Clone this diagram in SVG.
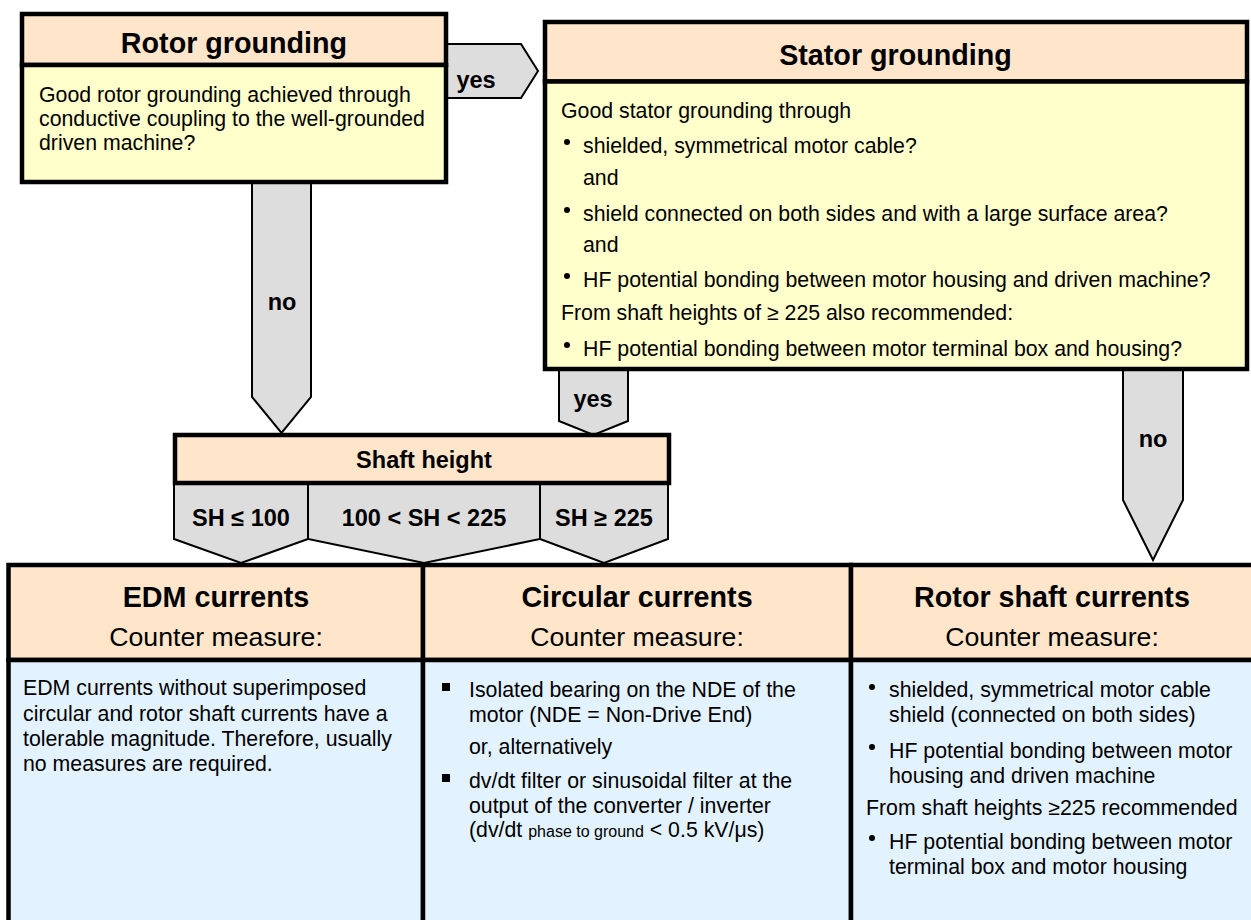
<svg xmlns="http://www.w3.org/2000/svg" width="1251" height="920" viewBox="0 0 1251 920">
<style>
 .bx{stroke:#000;stroke-width:4.5}
 .hdr{fill:#FFE6CB}
 .yel{fill:#FFFFCC}
 .blue{fill:#E2F3FF}
 .arr{fill:#DDDDDD;stroke:#000;stroke-width:2}
 text{font-family:"Liberation Sans",Arial,Helvetica,sans-serif;fill:#000}
 .h1{font-size:28.7px;font-weight:bold;text-anchor:middle}
 .cm{font-size:26.7px;text-anchor:middle}
 .lbl{font-size:23.5px;font-weight:bold;text-anchor:middle}
 .b{font-size:21.3px}
 .sm{font-size:16px}
</style>
<rect x="0" y="0" width="1251" height="920" fill="#fff"/>
<g id="connectors">
 <polygon class="arr" points="440,44 521,44 538,71 521,98 440,98"/>
 <text class="lbl" x="476" y="88">yes</text>
 <polygon class="arr" points="252,180 311,180 311,397 281.5,433 252,397"/>
 <text class="lbl" x="282" y="310">no</text>
 <polygon class="arr" points="559,368 628,368 628,421 593.5,435 559,421"/>
 <text class="lbl" x="593" y="407">yes</text>
 <polygon class="arr" points="1123,368 1183,368 1183,500 1153,560 1123,500"/>
 <text class="lbl" x="1153" y="447">no</text>
 <polygon class="arr" points="174,483 308,483 308,539 241,563 174,539"/>
 <polygon class="arr" points="308,483 540,483 540,539 424,563 308,539"/>
 <polygon class="arr" points="540,483 668,483 668,539 604,563 540,539"/>
 <text class="lbl" x="241" y="526">SH ≤ 100</text>
 <text class="lbl" x="424" y="526">100 &lt; SH &lt; 225</text>
 <text class="lbl" x="604" y="526">SH ≥ 225</text>
</g>
<g id="rotor-grounding">
 <rect class="bx hdr" x="22" y="14" width="424" height="51"/>
 <rect class="bx yel" x="22" y="65" width="424" height="117"/>
 <text class="h1" x="234" y="53">Rotor grounding</text>
 <text class="b" x="39" y="102">Good rotor grounding achieved through</text>
 <text class="b" x="39" y="126">conductive coupling to the well-grounded</text>
 <text class="b" x="39" y="150">driven machine?</text>
</g>
<g id="stator-grounding">
 <rect class="bx hdr" x="545" y="22" width="702" height="59.5"/>
 <rect class="bx yel" x="545" y="81.5" width="702" height="287.5"/>
 <text class="h1" x="895.5" y="65">Stator grounding</text>
 <text class="b" x="561" y="118">Good stator grounding through</text>
 <circle cx="567" cy="142" r="3"/>
 <text class="b" x="583" y="153">shielded, symmetrical motor cable?</text>
 <text class="b" x="583" y="185">and</text>
 <circle cx="567" cy="210" r="3"/>
 <text class="b" x="583" y="221">shield connected on both sides and with a large surface area?</text>
 <text class="b" x="583" y="252">and</text>
 <circle cx="567" cy="276" r="3"/>
 <text class="b" x="583" y="287">HF potential bonding between motor housing and driven machine?</text>
 <text class="b" x="561" y="320">From shaft heights of ≥ 225 also recommended:</text>
 <circle cx="567" cy="345" r="3"/>
 <text class="b" x="583" y="356">HF potential bonding between motor terminal box and housing?</text>
</g>
<g id="shaft-height">
 <rect class="bx hdr" x="175" y="435" width="494" height="48"/>
 <text class="lbl" x="424" y="468">Shaft height</text>
</g>
<g id="edm-currents">
 <rect class="bx hdr" x="8.5" y="565" width="414.5" height="95"/>
 <rect class="bx blue" x="8.5" y="660" width="414.5" height="290"/>
 <text class="h1" x="216" y="607">EDM currents</text>
 <text class="cm" x="216" y="646">Counter measure:</text>
 <text class="b" x="23" y="695">EDM currents without superimposed</text>
 <text class="b" x="23" y="721">circular and rotor shaft currents have a</text>
 <text class="b" x="23" y="746">tolerable magnitude. Therefore, usually</text>
 <text class="b" x="23" y="771">no measures are required.</text>
</g>
<g id="circular-currents">
 <rect class="bx hdr" x="423" y="565" width="428" height="95"/>
 <rect class="bx blue" x="423" y="660" width="428" height="290"/>
 <text class="h1" x="637" y="607">Circular currents</text>
 <text class="cm" x="637" y="646">Counter measure:</text>
 <rect x="442" y="683" width="8" height="8"/>
 <text class="b" x="469" y="697">Isolated bearing on the NDE of the</text>
 <text class="b" x="469" y="722">motor (NDE = Non-Drive End)</text>
 <text class="b" x="469" y="754">or, alternatively</text>
 <rect x="442" y="774" width="8" height="8"/>
 <text class="b" x="469" y="788">dv/dt filter or sinusoidal filter at the</text>
 <text class="b" x="469" y="813">output of the converter / inverter</text>
 <text class="b" x="469" y="837">(dv/dt <tspan class="sm">phase to ground</tspan> &lt; 0.5 kV/μs)</text>
</g>
<g id="rotor-shaft-currents">
 <rect class="bx hdr" x="851" y="565" width="420" height="95"/>
 <rect class="bx blue" x="851" y="660" width="420" height="290"/>
 <text class="h1" x="1052" y="607">Rotor shaft currents</text>
 <text class="cm" x="1052" y="646">Counter measure:</text>
 <circle cx="872" cy="687" r="3"/>
 <text class="b" x="889" y="697">shielded, symmetrical motor cable</text>
 <text class="b" x="889" y="722">shield (connected on both sides)</text>
 <circle cx="872" cy="747" r="3"/>
 <text class="b" x="889" y="758">HF potential bonding between motor</text>
 <text class="b" x="889" y="783">housing and driven machine</text>
 <text class="b" x="866" y="815">From shaft heights ≥225 recommended</text>
 <circle cx="872" cy="838" r="3"/>
 <text class="b" x="889" y="849">HF potential bonding between motor</text>
 <text class="b" x="889" y="874">terminal box and motor housing</text>
</g>
</svg>
